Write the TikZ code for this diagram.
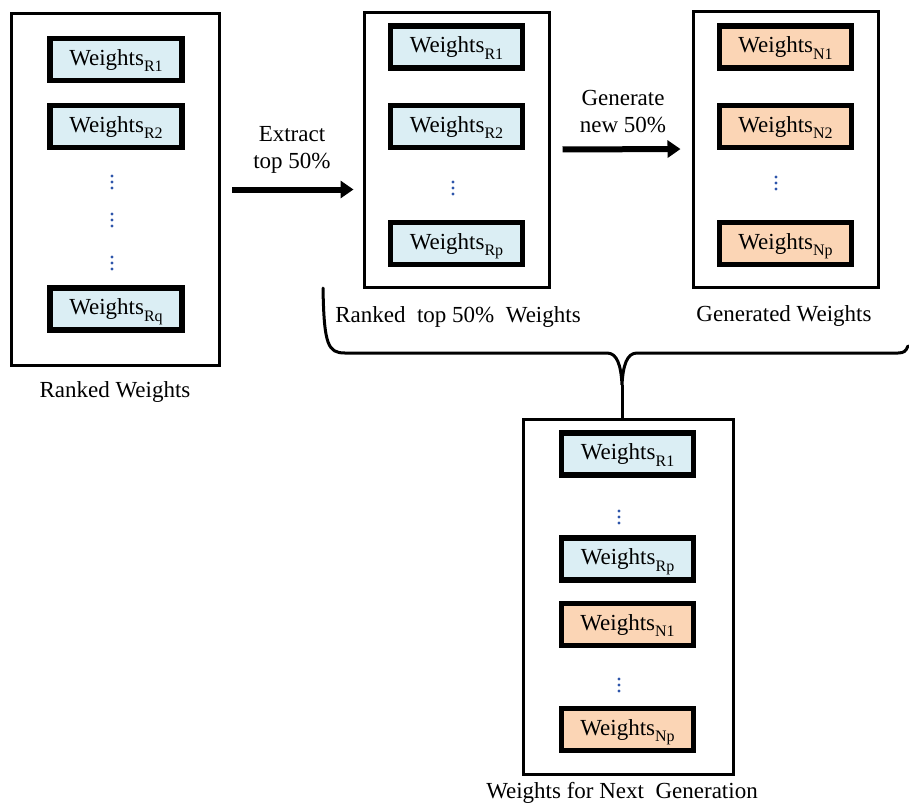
\documentclass[tikz,border=0pt]{standalone}
\usepackage{fontspec}
\setmainfont{Liberation Serif}
\usepackage{tikz}
\usetikzlibrary{
  arrows.meta,   % 粗箭头
  positioning    % 节点相对定位
}
\definecolor{rankblue}{RGB}{219,238,244}
\definecolor{newpeach}{RGB}{251,213,181}
\definecolor{dotblue}{RGB}{45,85,170}
\newcommand{\wts}[1]{Weights\raisebox{-6.5pt}[0pt][0pt]{\fontsize{16pt}{16pt}\selectfont #1}}
\tikzset{
  panel/.style={
    draw=black,
    line width=3pt,
    fill=white
  },
  wbox/.style={
    draw=black,
    line width=5.5pt,
    minimum width=132pt,
    minimum height=42pt,
    inner sep=0pt,
    font=\fontsize{23pt}{27pt}\selectfont
  },
  rank box/.style={wbox, fill=rankblue},
  new box/.style={wbox, fill=newpeach},
  caption/.style={
    font=\fontsize{23pt}{27pt}\selectfont,
    inner sep=0pt
  },
  fat arrow/.style={
    -{Triangle[length=13pt,width=17pt]},
    line width=6pt
  },
  dot/.style={fill=dotblue}
}

\begin{document}
\begin{tikzpicture}[x=1pt, y=-1pt]
  \useasboundingbox (0,0) rectangle (909,809);

  % 1. 四个外框
  \node[panel, minimum width=208pt, minimum height=352pt] (lp) at (115.5,189.5) {};
  \node[panel, minimum width=185pt, minimum height=275pt] (mp) at (456.5,149.5) {};
  \node[panel, minimum width=185pt, minimum height=276pt] (rp) at (785.5,149) {};
  \node[panel, minimum width=210pt, minimum height=355pt] (np) at (628,596.5) {};

  % 2. 左框：全部排序后的权重
  \node[rank box] (lr1) at (116,59.5) {\wts{R1}};
  \node[rank box] (lr2) at (116,126.5) {\wts{R2}};
  \node[rank box] (lrq) at (116,309) {\wts{Rq}};
  \foreach \y in {182,220,263}
    \foreach \d in {-6,0,6}
      \fill[dot] (112,\y+\d) circle (1.7);
  \node[caption] (lcap) at (115,392) {Ranked Weights};

  % 3. 中框：前 50%
  \node[rank box] (mr1) at (456.5,47) {\wts{R1}};
  \node[rank box] (mr2) at (456.5,126.5) {\wts{R2}};
  \node[rank box] (mrp) at (456.5,243.5) {\wts{Rp}};
  \foreach \d in {-6,0,6}
    \fill[dot] (453,188+\d) circle (1.7);
  \node[caption] (mcap) at (458,317) {Ranked\ \ top 50\%\ \ Weights};

  % 4. 右框：新生成的 50%
  \node[new box] (rn1) at (785.5,47) {\wts{N1}};
  \node[new box] (rn2) at (785.5,126.5) {\wts{N2}};
  \node[new box] (rnp) at (785.5,243.5) {\wts{Np}};
  \foreach \d in {-6,0,6}
    \fill[dot] (776,183+\d) circle (1.7);
  \node[caption] (rcap) at (784,316) {Generated Weights};

  % 5. 下框：下一代权重
  \node[rank box] (nr1) at (627.5,454) {\wts{R1}};
  \node[rank box] (nrp) at (627.5,559) {\wts{Rp}};
  \node[new box] (nn1) at (627.5,624.5) {\wts{N1}};
  \node[new box] (nnp) at (627.5,729.5) {\wts{Np}};
  \foreach \y in {517,685}
    \foreach \d in {-6,0,6}
      \fill[dot] (619,\y+\d) circle (1.7);
  \node[caption] (ncap) at (622,793) {Weights for Next\ \ Generation};

  % 6. 粗箭头与说明
  \draw[fat arrow, shorten <=11pt, shorten >=9pt] (lp.east) -- (mp.west |- lp.east);
  \node[caption, align=center] (ext) at (292,150) {Extract\\top 50\%};
  \draw[fat arrow, shorten <=12pt, shorten >=11pt] (mp.east) -- (rp.west);
  \node[caption, align=center] (gen) at (623,112) {Generate\\new 50\%};

  % 7. 大括号合并到下框
  \coordinate (cusp) at (622,385);
  \draw[line width=3pt, line cap=round]
    (323,288) .. controls (324,345) and (328,353) .. (345,353)
    -- (607,353) .. controls (617,353) and (621,365) .. (cusp)
    .. controls (623,365) and (627,353) .. (637,353)
    -- (898,353) .. controls (904,353) and (906,351) .. (908,346);
  \draw[line width=3pt] (cusp) -- (cusp |- np.north);

\end{tikzpicture}
\end{document}
